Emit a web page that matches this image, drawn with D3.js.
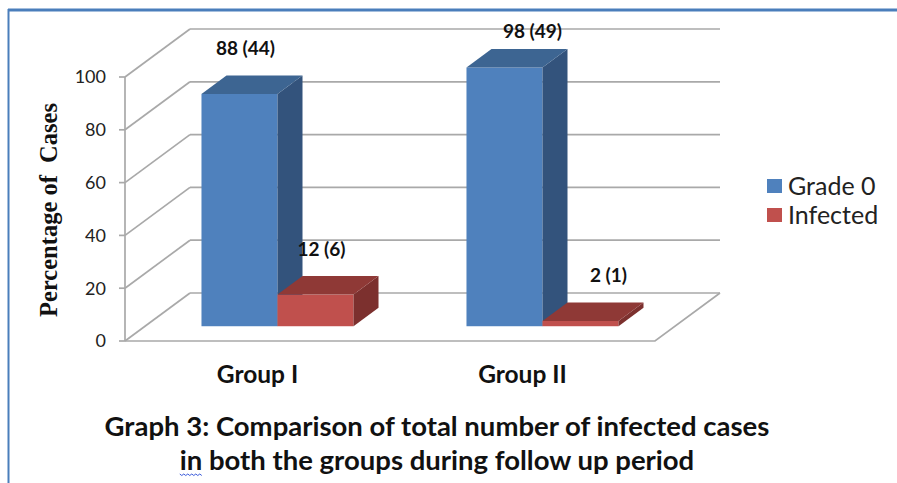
<!DOCTYPE html>
<html>
<head>
<meta charset="utf-8">
<script src="https://cdn.jsdelivr.net/npm/d3@7"></script>
<style>
  html, body { margin: 0; padding: 0; background: #ffffff; }
  svg { display: block; }
</style>
</head>
<body>
<svg id="chart" width="897" height="483"></svg>
<script>
// ---- data ----
const categories = ["Group I", "Group II"];
const seriesNames = ["Grade 0", "Infected"];
const grade0Pct = [88, 98];
const infectedPct = [12, 2];
const grade0Count = [44, 49];
const infectedCount = [6, 1];
const yTicks = [0, 20, 40, 60, 80, 100];
const yTitle = "Percentage of  Cases";
const captionLines = [
  "Graph 3: Comparison of total number of infected cases",
  "in both the groups during follow up period"
];

// ---- styles ----
const colors = {
  "Grade 0": { front: "#4f81bd", top: "#3d6592", side: "#33537c" },
  "Infected": { front: "#c0504d", top: "#8f3936", side: "#7c302e" }
};
const gridColor = "#a9a9a9";
const sansFont = "Lato, 'Open Sans', sans-serif";

const svg = d3.select("#chart");

// frame
svg.append("line").attr("x1", 8).attr("x2", 897).attr("y1", 10).attr("y2", 10)
  .attr("stroke", "#4a7ebb").attr("stroke-width", 3);
svg.append("line").attr("x1", 8.5).attr("x2", 8.5).attr("y1", 9).attr("y2", 483)
  .attr("stroke", "#4a7ebb").attr("stroke-width", 2);

// ---- scales ----
const y = d3.scaleLinear().domain([0, 100]).range([341, 77]);
const x = d3.scaleBand().domain(categories).range([125, 655]);
const xs = d3.scaleBand().domain(seriesNames).range([0, x.bandwidth()]).paddingOuter(0.743).paddingInner(0);
const depth = { dx: 65, dy: -48 };
const zFront = 20 / 65, zBack = 45 / 65;

const g = svg.append("g");

// back wall gridlines
g.selectAll("line.back").data(yTicks).join("line")
  .attr("x1", 125 + depth.dx).attr("x2", 655 + depth.dx)
  .attr("y1", d => y(d) + depth.dy).attr("y2", d => y(d) + depth.dy)
  .attr("stroke", gridColor).attr("stroke-width", 1.7);

// left wall diagonals
g.selectAll("line.side").data(yTicks).join("line")
  .attr("x1", 125).attr("x2", 125 + depth.dx)
  .attr("y1", d => y(d)).attr("y2", d => y(d) + depth.dy)
  .attr("stroke", gridColor).attr("stroke-width", 1.7);

// floor edges
g.append("path")
  .attr("d", `M${125},${y(0)} L${655},${y(0)} L${655 + depth.dx},${y(0) + depth.dy}`)
  .attr("fill", "none").attr("stroke", gridColor).attr("stroke-width", 1.7);

// left axis
g.append("line").attr("x1", 125).attr("x2", 125).attr("y1", y(0)).attr("y2", y(100))
  .attr("stroke", gridColor).attr("stroke-width", 1.7);
g.selectAll("line.tick").data(yTicks).join("line")
  .attr("x1", 119).attr("x2", 125).attr("y1", d => y(d)).attr("y2", d => y(d))
  .attr("stroke", gridColor).attr("stroke-width", 1.7);

g.selectAll("text.ytick").data(yTicks).join("text")
  .attr("x", 106).attr("y", d => y(d)).attr("dy", "0.35em")
  .attr("text-anchor", "end")
  .attr("font-family", sansFont).attr("font-size", 18).attr("fill", "#222")
  .text(d => d);

// ---- bars ----
const bars = [];
categories.forEach((c, i) => {
  bars.push({ cat: c, ser: "Grade 0", v: grade0Pct[i], n: grade0Count[i] });
  bars.push({ cat: c, ser: "Infected", v: infectedPct[i], n: infectedCount[i] });
});

const fdx = zFront * depth.dx, fdy = zFront * depth.dy;
const bdx = (zBack - zFront) * depth.dx, bdy = (zBack - zFront) * depth.dy;
const w = xs.bandwidth();

bars.forEach((b, i) => {
  const x0 = x(b.cat) + xs(b.ser) + fdx;
  const top = y(b.v) + fdy;
  const bot = y(0) + fdy;
  const col = colors[b.ser];
  // front
  g.append("rect").attr("x", x0).attr("y", top).attr("width", w).attr("height", bot - top)
    .attr("fill", col.front);
  // side
  g.append("path")
    .attr("d", `M${x0 + w},${top} L${x0 + w + bdx},${top + bdy} L${x0 + w + bdx},${bot + bdy} L${x0 + w},${bot} Z`)
    .attr("fill", col.side);
  // top
  g.append("path")
    .attr("d", `M${x0},${top} L${x0 + w},${top} L${x0 + w + bdx},${top + bdy} L${x0 + bdx},${top + bdy} Z`)
    .attr("fill", col.top);
  b.cx = x0 + w / 2 + (b.cat === categories[0] ? 6 : 28);
  b.ly = Math.max(top - 39, 38);
});

g.selectAll("text.dlabel").data(bars).join("text")
  .attr("x", d => d.cx).attr("y", d => d.ly)
  .attr("text-anchor", "middle")
  .attr("font-family", sansFont).attr("font-weight", "bold").attr("font-size", 19).attr("fill", "#111")
  .text(d => `${d.v} (${d.n})`);

// category labels
g.selectAll("text.cat").data(categories).join("text")
  .attr("x", d => x(d) + x.bandwidth() / 2).attr("y", 383)
  .attr("text-anchor", "middle")
  .attr("font-family", sansFont).attr("font-weight", "bold").attr("font-size", 24.5).attr("fill", "#111")
  .text(d => d);

// y title
svg.append("text")
  .attr("transform", "translate(57,210) rotate(-90)")
  .attr("text-anchor", "middle")
  .attr("font-family", "'Liberation Serif', 'Times New Roman', serif")
  .attr("font-weight", "bold").attr("font-size", 24.5).attr("fill", "#111")
  .attr("xml:space", "preserve")
  .style("white-space", "pre")
  .text(yTitle);

// legend
const leg = svg.append("g");
seriesNames.forEach((s, i) => {
  leg.append("rect").attr("x", 767).attr("y", 179 + i * 29).attr("width", 15).attr("height", 14)
    .attr("fill", colors[s].front);
  leg.append("text").attr("x", 788).attr("y", 186 + i * 29).attr("dy", "0.35em")
    .attr("font-family", sansFont).attr("font-size", 25).attr("fill", "#222")
    .text(s);
});

// caption
const caps = svg.selectAll("text.cap").data(captionLines).join("text")
  .attr("x", 437).attr("y", (d, i) => 436 + i * 34)
  .attr("text-anchor", "middle")
  .attr("font-family", sansFont).attr("font-weight", "bold").attr("font-size", 27.5).attr("fill", "#111")
  .text(d => d);

// spell-check squiggle under "in" on the second caption line
const line2 = caps.nodes()[1];
const e0 = line2.getExtentOfChar(0), e1 = line2.getExtentOfChar(1);
const sx0 = e0.x, sx1 = e1.x + e1.width, sy = 436 + 34 + 4;
const pts = [];
for (let xx = sx0, k = 0; xx <= sx1; xx += 2, k++) pts.push([xx, sy + (k % 2 ? 1.5 : 0)]);
svg.append("path").attr("d", d3.line()(pts)).attr("fill", "none")
  .attr("stroke", "#3b5bdb").attr("stroke-width", 1);
</script>
</body>
</html>
